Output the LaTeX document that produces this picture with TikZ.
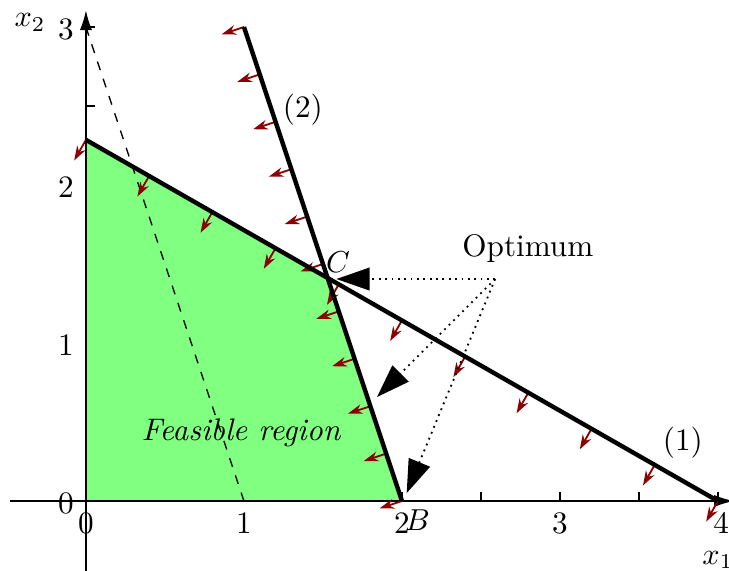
\documentclass[tikz,border=0pt]{standalone}
\usetikzlibrary{arrows.meta,calc}
\definecolor{arrred}{RGB}{139,0,0}
\definecolor{feas}{RGB}{128,255,128}
\begin{document}
\begin{tikzpicture}[x=1.833cm,y=1.833cm,
  every node/.style={font=\fontsize{10.3}{12}\selectfont},
  constraint/.style={line width=1.45pt},
  normalarrow/.style={arrred,line width=0.6pt,-{Stealth[length=4.8pt,width=3.2pt]}},
  optarrow/.style={line width=0.6pt,dash pattern=on 0.6pt off 1.5pt,-{Triangle[length=11pt,width=7.5pt]}},
  axisline/.style={line width=0.4pt},
  tickmark/.style={line width=0.4pt},
  ticklabel/.style={inner sep=1pt}]
\useasboundingbox (-0.544,-0.437) rectangle (4.070,3.171);
\clip (-0.544,-0.437) rectangle (4.070,3.171);
% ticks
\foreach \t in {0.5,1,...,4}{\draw[tickmark] (\t,0) -- (\t,0.055);}
\foreach \t in {0.5,1,...,3}{\draw[tickmark] (0,\t) -- (0.055,\t);}
% named points
\coordinate (O) at (0,0);
\coordinate (A) at (0,{4/1.75});
\coordinate (C) at ({6.5/4.25},{6-3*6.5/4.25});
\coordinate (B) at (2,0);
\coordinate (D) at (4,0);
\coordinate (E) at (1,3);
\coordinate (Z1) at (0,3);
\coordinate (Z2) at (1,0);
% feasible region
\fill[feas] (O) -- (A) -- (C) -- (B) -- cycle;
% objective contour
\draw[dashed,line width=0.45pt] (Z1) -- (Z2);
% axes
\coordinate (xs) at (-0.48,0);
\coordinate (xe) at (4.1,0);
\coordinate (ys) at (0,-0.45);
\coordinate (ye) at (0,3.105);
\draw[axisline,-{Latex[length=6.5pt,width=4pt]}] (xs) -- (xe);
\draw[axisline,-{Latex[length=6.5pt,width=4pt]}] (ys) -- (ye);
% normal arrows
\foreach \i in {0,...,10}{
  \coordinate (pa\i) at ({0.4*\i},{(4-0.4*\i)/1.75});
  \draw[normalarrow] (pa\i) -- ++(-0.0744,-0.1302);
  \coordinate (pb\i) at ({1+0.1*\i},{3-0.3*\i});
  \draw[normalarrow] (pb\i) -- ++(-0.142,-0.047);
}
% constraints
\draw[constraint] (A) -- (D);
\draw[constraint] (E) -- (B);
% labels
\node (l1) at (3.778,0.367) {(1)};
\node (l2) at (1.373,2.475) {(2)};
\node (lC) at (1.595,1.513) {$C$};
\node (lB) at (2.10,-0.12) {$B$};
\node (feasible) at (0.981,0.43) {\itshape Feasible region};
\node (opt) at (2.797,1.601) {Optimum};
\node (x2) at (-0.354,3.03) {$x_2$};
\node (x1) at (4.0,-0.373) {$x_1$};
\foreach \v in {0,1,2,3}{\node[ticklabel] (yl\v) at (-0.127,\v-0.015) {\v};}
\foreach \v in {0,1,2,3}{\node[ticklabel] (xl\v) at (\v,-0.14) {\v};}
\node[ticklabel] (xl4) at (4.02,-0.14) {4};
% optimum arrows
\coordinate (os) at (2.59,1.405);
\coordinate (t1) at (1.585,1.405);
\coordinate (t2) at (1.842,0.658);
\coordinate (t3) at (2.03,0.05);
\draw[optarrow] (os) -- (t1);
\draw[optarrow] (os) -- (t2);
\draw[optarrow] (os) -- (t3);
\end{tikzpicture}
\end{document}
